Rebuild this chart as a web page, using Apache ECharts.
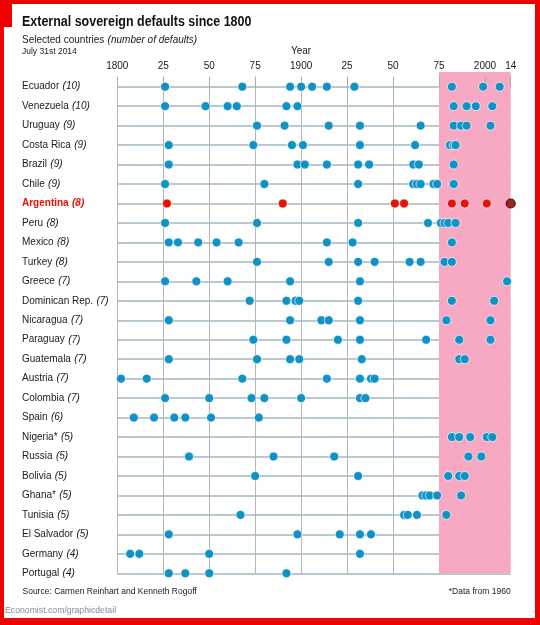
<!DOCTYPE html>
<html>
<head>
<meta charset="utf-8">
<title>External sovereign defaults since 1800</title>
<script src="https://cdn.jsdelivr.net/npm/echarts@6/dist/echarts.min.js"></script>
<style>
  html, body { margin: 0; padding: 0; background: #fff; }
  #chart { width: 540px; height: 625px; }
</style>
</head>
<body>
<div id="chart"></div>
<script>
// rows, top to bottom
const countries = ['Ecuador', 'Venezuela', 'Uruguay', 'Costa Rica', 'Brazil', 'Chile', 'Argentina',
  'Peru', 'Mexico', 'Turkey', 'Greece', 'Dominican Rep.', 'Nicaragua', 'Paraguay', 'Guatemala',
  'Austria', 'Colombia', 'Spain', 'Nigeria*', 'Russia', 'Bolivia', 'Ghana*', 'Tunisia',
  'El Salvador', 'Germany', 'Portugal'];
const defaultCounts = [10, 10, 9, 9, 9, 9, 8, 8, 8, 8, 7, 7, 7, 7, 7, 7, 7, 6, 5, 5, 5, 5, 5, 5, 4, 4];

// default years
const ecuador = [1826, 1868, 1894, 1900, 1906, 1914, 1929, 1982, 1999, 2008];
const venezuela = [1826, 1848, 1860, 1865, 1892, 1898, 1983, 1990, 1995, 2004];
const uruguay = [1876, 1891, 1915, 1932, 1965, 1983, 1987, 1990, 2003];
const costaRica = [1828, 1874, 1895, 1901, 1932, 1962, 1981, 1983, 1984];
const brazil = [1828, 1898, 1902, 1914, 1931, 1937, 1961, 1964, 1983];
const chile = [1826, 1880, 1931, 1961, 1963, 1965, 1972, 1974, 1983];
const argentina = [1827, 1890, 1951, 1956, 1982, 1989, 2001, 2014];
const peru = [1826, 1876, 1931, 1969, 1976, 1978, 1980, 1984];
const mexico = [1828, 1833, 1844, 1854, 1866, 1914, 1928, 1982];
const turkey = [1876, 1915, 1931, 1940, 1959, 1965, 1978, 1982];
const greece = [1826, 1843, 1860, 1894, 1932, 2012];
const dominicanRep = [1872, 1892, 1897, 1899, 1931, 1982, 2005];
const nicaragua = [1828, 1894, 1911, 1915, 1932, 1979, 2003];
const paraguay = [1874, 1892, 1920, 1932, 1968, 1986, 2003];
const guatemala = [1828, 1876, 1894, 1899, 1933, 1986, 1989];
const austria = [1802, 1816, 1868, 1914, 1932, 1938, 1940];
const colombia = [1826, 1850, 1873, 1880, 1900, 1932, 1935];
const spain = [1809, 1820, 1831, 1837, 1851, 1877];
const nigeria = [1982, 1986, 1992, 2001, 2004];
const russia = [1839, 1885, 1918, 1991, 1998];
const bolivia = [1875, 1931, 1980, 1986, 1989];
const ghana = [1966, 1968, 1970, 1974, 1987];
const tunisia = [1867, 1956, 1958, 1963, 1979];
const elSalvador = [1828, 1898, 1921, 1932, 1938];
const germany = [1807, 1812, 1850, 1932];
const portugal = [1828, 1837, 1850, 1892];

const shaded = [1975, 2014]; // pink band

const yearsByRow = [ecuador, venezuela, uruguay, costaRica, brazil, chile, argentina, peru,
  mexico, turkey, greece, dominicanRep, nicaragua, paraguay, guatemala, austria, colombia,
  spain, nigeria, russia, bolivia, ghana, tunisia, elSalvador, germany, portugal];

const RED = '#e3120b';
const BLUE = '#0f93c7';
const FONT = "'Liberation Sans', Arial, sans-serif";

const blueData = [];
const redData = [];
yearsByRow.forEach((years, i) => {
  years.forEach((y) => {
    if (countries[i] === 'Argentina') {
      if (y === 2014) {
        redData.push({ value: [y, countries[i]], itemStyle: { color: '#a8201b', borderColor: '#222', borderWidth: 1.2 } });
      } else {
        redData.push([y, countries[i]]);
      }
    } else {
      blueData.push([y, countries[i]]);
    }
  });
});

const chart = echarts.init(document.getElementById('chart'), null, { renderer: 'canvas' });

const gridLeft = 117.3;
const gridRight = 29.3;
const clear = 'rgba(0,0,0,0)';

chart.setOption({
  animation: false,
  grid: [
    { left: gridLeft, right: gridRight, top: 86.7, bottom: 51.7 },
    { left: gridLeft, right: gridRight, top: 72, height: 14.7 }
  ],
  xAxis: [
    {
      type: 'value', gridIndex: 0, position: 'top', min: 1800, max: 2014, interval: 25, z: 1,
      axisLine: { show: false },
      axisTick: { show: true, length: 10, lineStyle: { color: '#aaa' } },
      axisLabel: {
        margin: 15, color: '#1a1a1a', fontFamily: FONT, fontSize: 10,
        formatter: (v) => (v % 100 === 0 ? String(v) : String(v % 100).padStart(2, '0'))
      },
      splitLine: {
        show: true,
        lineStyle: { width: 1, color: ['#b5b5b5', '#b5b5b5', '#b5b5b5', '#b5b5b5', '#b5b5b5', '#b5b5b5', '#b5b5b5', '#b5b5b5', '#fbd6e2', clear] }
      }
    },
    {
      type: 'value', gridIndex: 1, min: 1800, max: 2014, interval: 25, z: 1,
      axisLine: { show: false }, axisTick: { show: false }, axisLabel: { show: false },
      splitLine: {
        show: true,
        lineStyle: { width: 1, color: [clear, clear, clear, clear, clear, clear, clear, clear, '#fbd6e2', clear] }
      }
    }
  ],
  yAxis: [
    {
      type: 'category', gridIndex: 0, data: countries, inverse: true, boundaryGap: false, z: 1,
      axisLine: { show: false }, axisTick: { show: false },
      axisLabel: {
        interval: 0, align: 'left', margin: gridLeft - 22,
        formatter: (name, i) => name === 'Argentina'
          ? '{an|' + name + '} {ac|(' + defaultCounts[i] + ')}'
          : '{n|' + name + '} {c|(' + defaultCounts[i] + ')}',
        rich: {
          n: { fontFamily: FONT, fontSize: 10, color: '#1a1a1a' },
          c: { fontFamily: FONT, fontSize: 10, color: '#1a1a1a', fontStyle: 'italic' },
          an: { fontFamily: FONT, fontSize: 10, color: RED, fontWeight: 'bold' },
          ac: { fontFamily: FONT, fontSize: 10, color: RED, fontWeight: 'bold', fontStyle: 'italic' }
        }
      },
      splitLine: { show: true, interval: 0, lineStyle: { color: '#a2b7c2', width: 1.5 } }
    },
    { type: 'value', gridIndex: 1, min: 0, max: 1, show: false, splitLine: { show: false } }
  ],
  series: [
    {
      type: 'scatter', xAxisIndex: 0, yAxisIndex: 0, data: [], z: 0, silent: true,
      markArea: { silent: true, itemStyle: { color: '#f7a8c3' }, data: [[{ xAxis: shaded[0] }, { xAxis: shaded[1] }]] }
    },
    {
      type: 'scatter', xAxisIndex: 1, yAxisIndex: 1, data: [], z: 0, silent: true,
      markArea: { silent: true, itemStyle: { color: '#f7a8c3' }, data: [[{ xAxis: shaded[0] }, { xAxis: shaded[1] }]] }
    },
    {
      name: 'Defaults', type: 'scatter', xAxisIndex: 0, yAxisIndex: 0, z: 3,
      symbolSize: 9, data: blueData,
      itemStyle: { color: BLUE, borderColor: '#fff', borderWidth: 0.7, opacity: 1 }
    },
    {
      name: 'Argentina', type: 'scatter', xAxisIndex: 0, yAxisIndex: 0, z: 4,
      symbolSize: 9, data: redData,
      itemStyle: { color: RED, borderColor: '#fff', borderWidth: 0.7, opacity: 1 }
    }
  ],
  graphic: [
    // condensed look for the headline: squeeze a bold face horizontally
    { type: 'text', x: 22, y: 22, scaleX: 0.86, style: { text: 'External sovereign defaults since 1800', font: 'bold 14.5px ' + FONT, fill: '#111', verticalAlign: 'middle', textVerticalAlign: 'middle' } },
    {
      type: 'text', x: 22, y: 39.8,
      style: {
        text: '{a|Selected countries} {b|(number of defaults)}', verticalAlign: 'middle', textVerticalAlign: 'middle',
        rich: {
          a: { fontFamily: FONT, fontSize: 10, fill: '#1a1a1a', color: '#1a1a1a' },
          b: { fontFamily: FONT, fontSize: 10, fontStyle: 'italic', fill: '#1a1a1a', color: '#1a1a1a' }
        }
      }
    },
    { type: 'text', x: 22, y: 52, style: { text: 'July 31st 2014', font: '8.5px ' + FONT, fill: '#1a1a1a', verticalAlign: 'middle', textVerticalAlign: 'middle' } },
    { type: 'text', x: 301, y: 50.9, style: { text: 'Year', font: '10px ' + FONT, fill: '#1a1a1a', align: 'center', textAlign: 'center', verticalAlign: 'middle', textVerticalAlign: 'middle' } },
    { type: 'text', x: 22.5, y: 592, style: { text: 'Source: Carmen Reinhart and Kenneth Rogoff', font: '8.5px ' + FONT, fill: '#1a1a1a', verticalAlign: 'middle', textVerticalAlign: 'middle' } },
    { type: 'text', x: 510.7, y: 592, style: { text: '*Data from 1960', font: '8.5px ' + FONT, fill: '#1a1a1a', align: 'right', textAlign: 'right', verticalAlign: 'middle', textVerticalAlign: 'middle' } },
    { type: 'text', x: 5, y: 611, style: { text: 'Economist.com/graphicdetail', font: '8.7px ' + FONT, fill: '#8a8a8a', verticalAlign: 'middle', textVerticalAlign: 'middle' } },
    // red frame
    { type: 'rect', shape: { x: 0, y: 0, width: 540, height: 4 }, style: { fill: '#f20000' }, z: 10 },
    { type: 'rect', shape: { x: 0, y: 0, width: 4, height: 625 }, style: { fill: '#f20000' }, z: 10 },
    { type: 'rect', shape: { x: 535, y: 0, width: 5, height: 625 }, style: { fill: '#f20000' }, z: 10 },
    { type: 'rect', shape: { x: 0, y: 618, width: 540, height: 7 }, style: { fill: '#f20000' }, z: 10 },
    { type: 'rect', shape: { x: 0, y: 0, width: 12, height: 27 }, style: { fill: '#f20000' }, z: 10 }
  ]
});
</script>
</body>
</html>
